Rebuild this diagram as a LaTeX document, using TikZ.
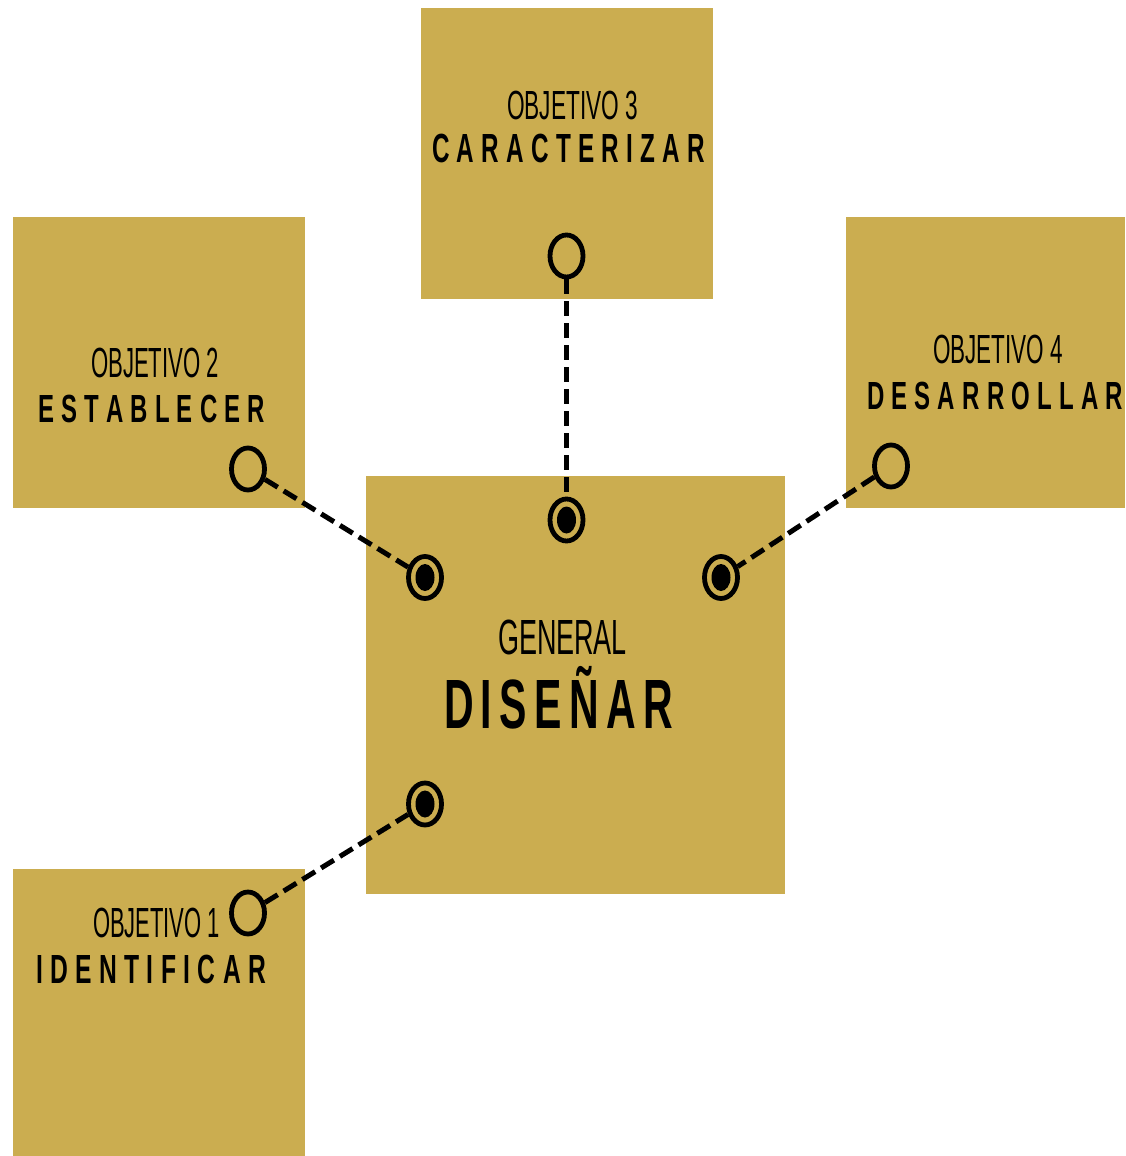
\documentclass[tikz,border=0pt]{standalone}
\usepackage{fontspec}
\usepackage{graphicx}
\usetikzlibrary{shapes.geometric}
\setmainfont{Liberation Sans}
\definecolor{gold}{RGB}{203,173,80}

% letters of one word set apart by a fixed gap
\ExplSyntaxOn
\NewDocumentCommand\spreadword{mm}{
  \bool_set_true:N \l_tmpa_bool
  \tl_map_inline:nn {#2}
    { \bool_if:NF \l_tmpa_bool { \hspace{#1} } \bool_set_false:N \l_tmpa_bool ##1 }
}
\ExplSyntaxOff

% capitals squeezed into a box of given width and cap height
\newcommand\capheight[1]{\raisebox{0pt}[\fontcharht\font`E][0pt]{#1}}
\newcommand\thinlabel[3]{\resizebox{#1}{#2}{\fontsize{40}{40}\selectfont\capheight{#3}}}
\newcommand\boldlabel[4]{\resizebox{#1}{#2}{\fontsize{40}{40}\selectfont\bfseries\capheight{\spreadword{#3}{#4}}}}

\begin{document}
\begin{tikzpicture}[x=1pt,y=-1pt,
  panel/.style={fill=gold, draw=none},
  lbl/.style={anchor=south west, inner sep=0pt, outer sep=0pt},
  ring/.style={ellipse, draw=black, fill=gold, line width=4.8pt,
    minimum width=33pt, minimum height=42pt, inner sep=0pt},
  target/.style={ring, path picture={\fill[black] (path picture bounding box.center)
    ellipse [x radius=9.5pt, y radius=13.5pt];}},
  link/.style={draw=black, line width=5pt, dash pattern=on 15pt off 7pt}]

\useasboundingbox (0,0) rectangle (1125,1156);

% panels
\fill[panel] (421,8) rectangle (713,299);
\fill[panel] (13,217) rectangle (305,508);
\fill[panel] (846,217) rectangle (1125,508);
\fill[panel] (366,476) rectangle (785,894);
\fill[panel] (13,869) rectangle (305,1156);

% labels
\node[lbl] (h3) at (507,119) {\thinlabel{131pt}{28pt}{OBJETIVO 3}};
\node[lbl] (w3) at (432,162) {\boldlabel{273pt}{28pt}{0.3em}{CARACTERIZAR}};
\node[lbl] (h2) at (91,377) {\thinlabel{128pt}{29pt}{OBJETIVO 2}};
\node[lbl] (w2) at (38,422) {\boldlabel{227pt}{27pt}{0.3em}{ESTABLECER}};
\node[lbl] (h4) at (933,363) {\thinlabel{130pt}{28pt}{OBJETIVO 4}};
\node[lbl] (w4) at (867,409) {\boldlabel{256pt}{27pt}{0.3em}{DESARROLLAR}};
\node[lbl] (h1) at (93,937) {\thinlabel{127pt}{29pt}{OBJETIVO 1}};
\node[lbl] (w1) at (36,983) {\boldlabel{230pt}{28pt}{0.3em}{IDENTIFICAR}};
\node[lbl] (hg) at (498,654) {\thinlabel{129pt}{34pt}{GENERAL}};
\node[lbl] (wg) at (444,728) {\boldlabel{229pt}{48pt}{0.18em}{DISEÑAR}};

% connection points
\node[ring] (o3) at (566.5,256) {};
\node[ring] (o2) at (248,469) {};
\node[ring] (o4) at (891,466) {};
\node[ring] (o1) at (248,913) {};
\node[target] (t3) at (566.5,520) {};
\node[target] (t2) at (425,577.5) {};
\node[target] (t4) at (721,577.5) {};
\node[target] (t1) at (425,804) {};

% links
\draw[link] (o3) -- (t3);
\draw[link] (o2) -- (t2);
\draw[link] (o4) -- (t4);
\draw[link] (o1) -- (t1);

\end{tikzpicture}
\end{document}
